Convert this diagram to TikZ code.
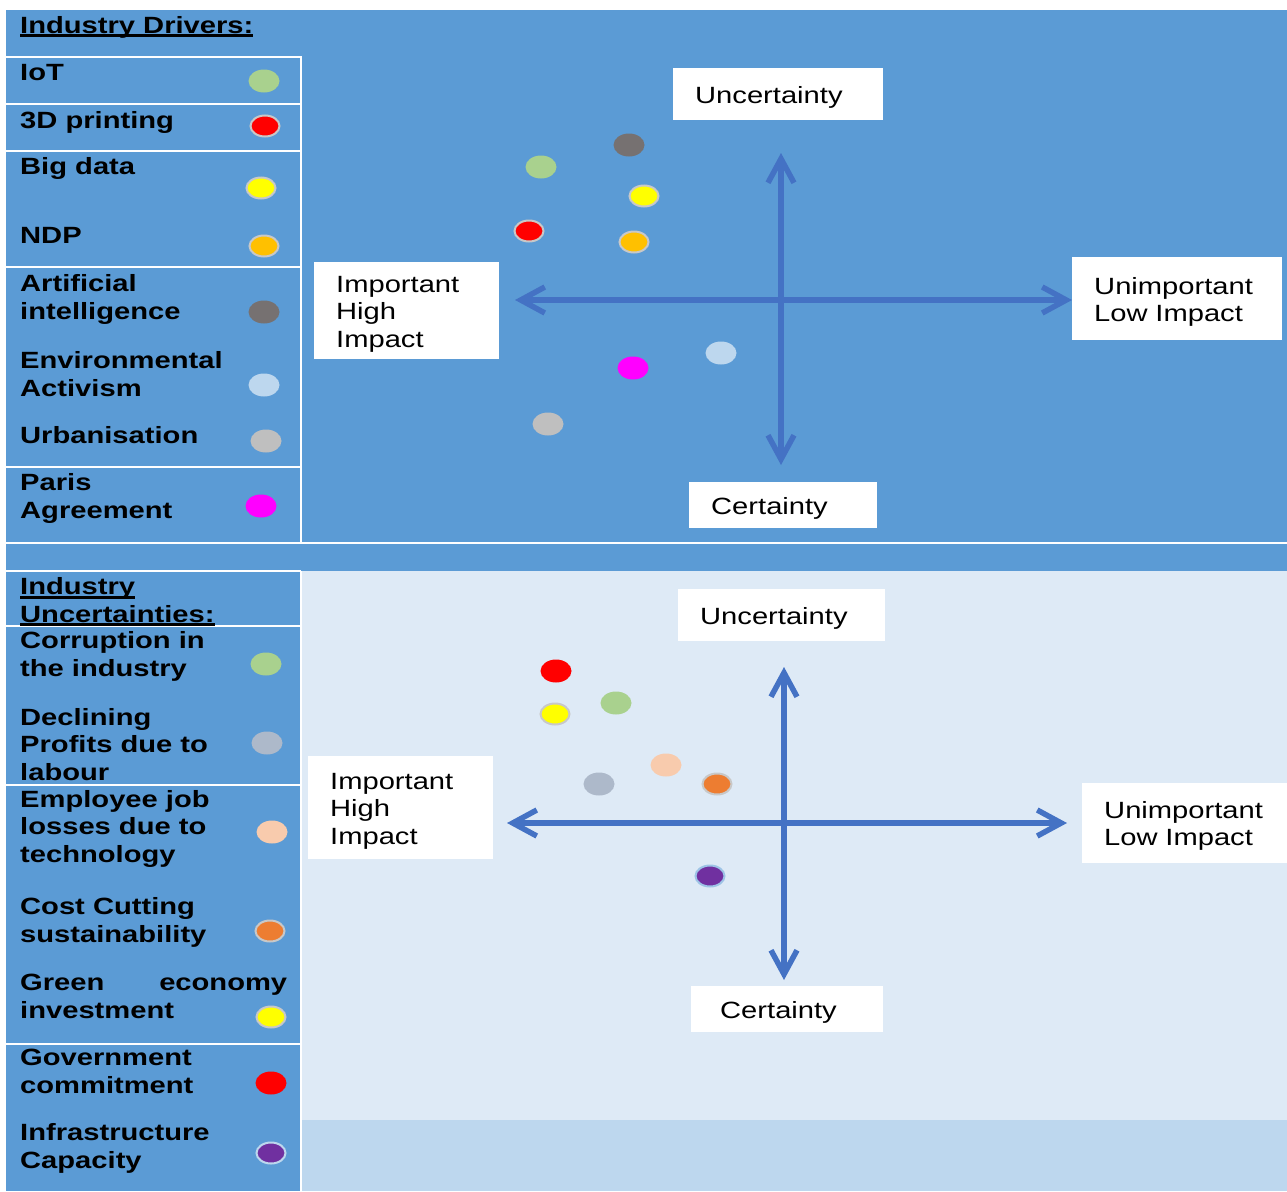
\documentclass[tikz,border=0pt]{standalone}
\usepackage{fontspec}
\setmainfont{Liberation Sans}[FakeStretch=1.24]
\usetikzlibrary{arrows.meta,shapes.geometric}

\definecolor{panel}{HTML}{5B9BD5}
\definecolor{pale}{HTML}{DEEAF6}
\definecolor{paler}{HTML}{BDD7EE}
\definecolor{axisblue}{HTML}{4472C4}
\definecolor{cGreen}{HTML}{A9D18E}
\definecolor{cRed}{HTML}{FF0000}
\definecolor{cYellow}{HTML}{FFFF00}
\definecolor{cAmber}{HTML}{FFC000}
\definecolor{cDark}{HTML}{767171}
\definecolor{cSky}{HTML}{BDD7EE}
\definecolor{cSilver}{HTML}{BFBFBF}
\definecolor{cMagenta}{HTML}{FF00FF}
\definecolor{cSlate}{HTML}{ADB9CA}
\definecolor{cPeach}{HTML}{F8CBAD}
\definecolor{cOrange}{HTML}{ED7D31}
\definecolor{cPurple}{HTML}{7030A0}
\definecolor{rim}{HTML}{C8C8C8}
\definecolor{glow}{HTML}{9DC3E6}

% underline drawn just under the baseline
\newcommand\headline[1]{\setbox0\hbox{#1}\rlap{\rule[-4pt]{\wd0}{2.6pt}}\box0}

\begin{document}
\begin{tikzpicture}[x=1pt,y=-1pt,
  sep/.style={white, line width=1.5pt},
  % multi-line labels sit on the baseline of their last line
  lg/.style={anchor=base west, inner sep=0, align=left,
    font=\bfseries\fontsize{23.5}{27.3}\selectfont},
  % a tall first-line strut lowers the text a little inside the box
  tag/.style={fill=white, anchor=north west, inner xsep=22pt, inner ysep=0pt,
    align=left, font=\fontsize{23.5}{27.3}\selectfont,
    execute at begin node={\rule{0pt}{23pt}}},
  dot/.style={ellipse, minimum width=31pt, minimum height=23pt, inner sep=0pt},
  rimmed/.style={draw=rim, line width=2pt, minimum width=29pt, minimum height=21pt},
  barb/.tip={Straight Barb[length=24pt,width=26pt,line width=5.5pt]},
  axisline/.style={axisblue, line width=5.5pt, barb-barb}
]
\useasboundingbox (0,0) rectangle (1287,1191);
\fill[white] (0,0) rectangle (1287,1191);

% ---------- backgrounds ----------
\fill[panel] (6,10) rectangle (1287,571);
\fill[panel] (6,571) rectangle (301,1191);
\fill[pale] (302,571) rectangle (1287,1120);
\fill[paler] (302,1120) rectangle (1287,1191);

% ---------- table rules ----------
\draw[sep] (6,57) -- (302,57);
\draw[sep] (301,57) -- (301,543);
\draw[sep] (6,104) -- (301,104);
\draw[sep] (6,151) -- (301,151);
\draw[sep] (6,267) -- (301,267);
\draw[sep] (6,467) -- (301,467);
\draw[sep] (6,543) -- (1287,543);
\draw[sep] (6,571) -- (301,571);
\draw[sep] (301,571) -- (301,1191);
\draw[sep] (6,626) -- (301,626);
\draw[sep] (6,785) -- (301,785);
\draw[sep] (6,1044) -- (301,1044);

% ---------- legend: drivers ----------
\node[lg] (hDrivers) at (20,33) {\headline{Industry Drivers:}};
\node[lg] (tIoT) at (20,80) {IoT};
\node[lg] (t3D) at (20,128) {3D printing};
\node[lg] (tBig) at (20,174) {Big data};
\node[lg] (tNDP) at (20,243) {NDP};
\node[lg] (tAI) at (20,319) {Artificial\\intelligence};
\node[lg] (tEnv) at (20,396) {Environmental\\Activism};
\node[lg] (tUrb) at (20,443) {Urbanisation};
\node[lg] (tParis) at (20,518) {Paris\\Agreement};

\node[dot, fill=cGreen] (kIoT) at (264,81) {};
\node[dot, rimmed, fill=cRed] (k3D) at (265,126) {};
\node[dot, rimmed, fill=cYellow] (kBig) at (261,188) {};
\node[dot, rimmed, fill=cAmber] (kNDP) at (264,246) {};
\node[dot, fill=cDark] (kAI) at (264,312) {};
\node[dot, fill=cSky] (kEnv) at (264,385) {};
\node[dot, fill=cSilver] (kUrb) at (266,441) {};
\node[dot, fill=cMagenta] (kParis) at (261,506) {};

% ---------- legend: uncertainties ----------
\node[lg] (hUnc) at (20,622) {\headline{Industry}\\\headline{Uncertainties:}};
\node[lg] (tCorr) at (20,676) {Corruption in\\the industry};
\node[lg] (tDecl) at (20,780) {Declining\\Profits due to\\labour};
\node[lg] (tJob) at (20,862) {Employee job\\losses due to\\technology};
\node[lg] (tCost) at (20,942) {Cost Cutting\\sustainability};
\node[lg] (tGreen) at (20,1018) {\makebox[267pt][s]{Green economy}\\investment};
\node[lg] (tGov) at (20,1093) {Government\\commitment};
\node[lg] (tInfra) at (20,1168) {Infrastructure\\Capacity};

\node[dot, fill=cGreen] (kCorr) at (266,664) {};
\node[dot, fill=cSlate] (kDecl) at (267,743) {};
\node[dot, fill=cPeach] (kJob) at (272,832) {};
\node[dot, rimmed, fill=cOrange] (kCost) at (270,931) {};
\node[dot, rimmed, fill=cYellow] (kGreen) at (271,1017) {};
\node[dot, fill=cRed] (kGov) at (271,1083) {};
\node[dot, rimmed, draw=cSky, fill=cPurple] (kInfra) at (271,1153) {};

% ---------- upper matrix ----------
\coordinate (aT1) at (781,153);
\coordinate (aB1) at (781,465);
\coordinate (aL1) at (515,300);
\coordinate (aR1) at (1072,300);
\draw[axisline] (aL1) -- (aR1);
\draw[axisline] (aB1) -- (aT1);

\node[tag, minimum width=210pt, minimum height=52pt, text width=166pt] (unc1) at (673,68) {Uncertainty};
\node[tag, minimum width=185pt, minimum height=97pt, text width=141pt] (imp1) at (314,262) {Important\\High\\Impact};
\node[tag, minimum width=210pt, minimum height=83pt, text width=166pt] (unimp1) at (1072,257) {Unimportant\\Low Impact};
\node[tag, minimum width=188pt, minimum height=46pt, text width=144pt] (cert1) at (689,482) {Certainty};

\node[dot, fill=cGreen] (pIoT) at (541,167) {};
\node[dot, fill=cDark] (pAI) at (629,145) {};
\node[dot, rimmed, fill=cYellow] (pBig) at (644,196) {};
\node[dot, rimmed, fill=cRed] (p3D) at (529,231) {};
\node[dot, rimmed, fill=cAmber] (pNDP) at (634,242) {};
\node[dot, fill=cSky] (pEnv) at (721,353) {};
\node[dot, fill=cMagenta] (pParis) at (633,368) {};
\node[dot, fill=cSilver] (pUrb) at (548,424) {};

% ---------- lower matrix ----------
\coordinate (aT2) at (784,667);
\coordinate (aB2) at (784,980);
\coordinate (aL2) at (507,823);
\coordinate (aR2) at (1067,823);
\draw[axisline] (aL2) -- (aR2);
\draw[axisline] (aB2) -- (aT2);

\node[tag, minimum width=207pt, minimum height=52pt, text width=163pt] (unc2) at (678,589) {Uncertainty};
\node[tag, minimum width=185pt, minimum height=103pt, text width=141pt] (imp2) at (308,756) {Important\\High\\Impact};
\node[tag, minimum width=205pt, minimum height=80pt, text width=161pt] (unimp2) at (1082,783) {Unimportant\\Low Impact};
\node[tag, inner xsep=29pt, minimum width=192pt, minimum height=46pt, text width=134pt] (cert2) at (691,986) {Certainty};

\node[dot, fill=cRed] (qGov) at (556,671) {};
\node[dot, rimmed, fill=cYellow] (qGreen) at (555,714) {};
\node[dot, fill=cGreen] (qCorr) at (616,703) {};
\node[dot, fill=cPeach] (qJob) at (666,765) {};
\node[dot, fill=cSlate] (qDecl) at (599,784) {};
\node[dot, rimmed, fill=cOrange] (qCost) at (717,784) {};
\node[dot, rimmed, draw=glow, fill=cPurple] (qInfra) at (710,876) {};
\end{tikzpicture}
\end{document}
